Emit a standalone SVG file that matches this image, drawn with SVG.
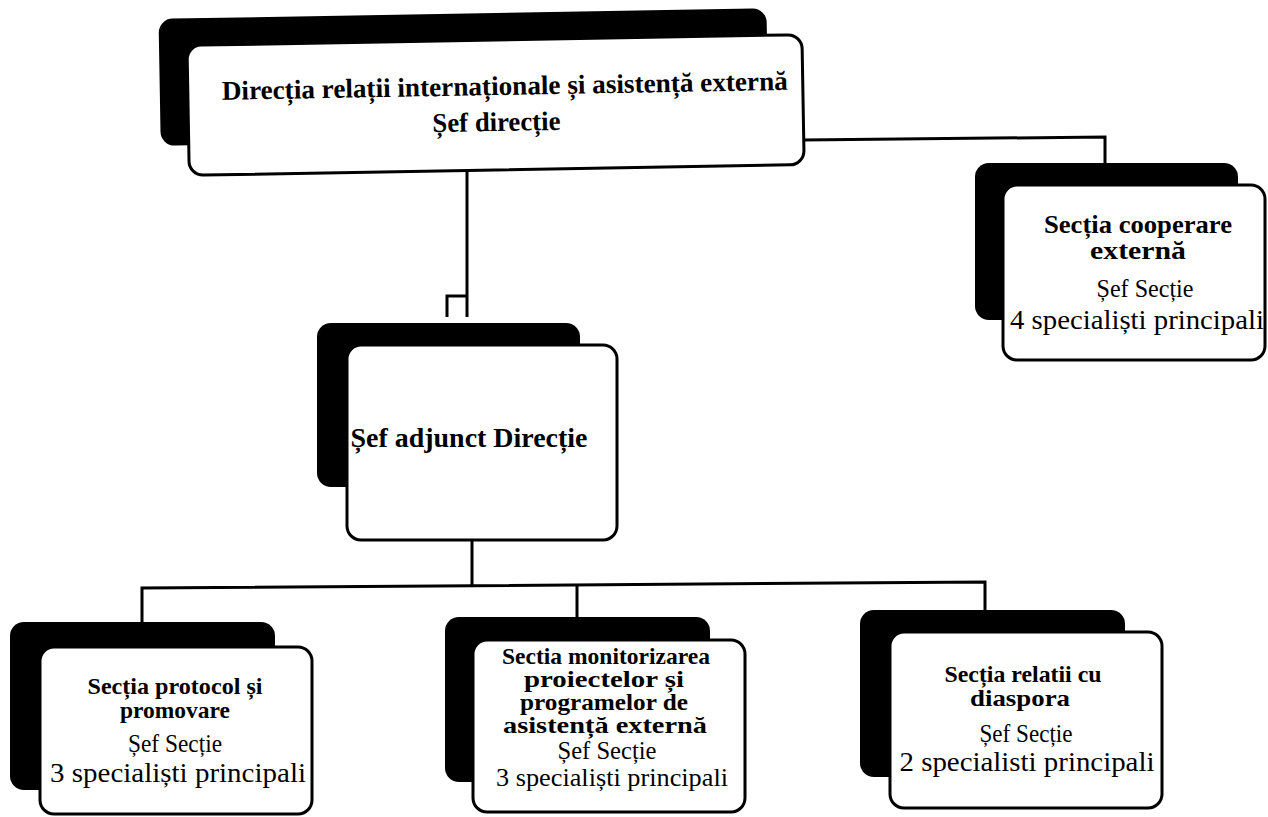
<svg xmlns="http://www.w3.org/2000/svg" width="1268" height="817" viewBox="0 0 1268 817">
<style>
.sh{fill:#000;}
.bx{fill:#fff;stroke:#000;stroke-width:3;}
.t{font-family:"Liberation Serif","Times New Roman",serif;fill:#000;text-anchor:middle;}
.b{font-weight:bold;font-size:23px;}
.bc{font-weight:bold;font-size:25px;}
.r{font-size:26px;}
.rm{font-size:25px;}
.rl{font-size:27px;}
.big{font-weight:bold;font-size:27px;}
.ln{fill:none;stroke:#000;stroke-width:3;}
</style>
<rect width="1268" height="817" fill="#fff"/>
<g id="connectors">
<path class="ln" d="M467 172 V317 M467 296 H447 V317"/>
<path class="ln" d="M803 140 L1105 137 V163"/>
<path class="ln" d="M472 540 V586"/>
<path class="ln" d="M142 622 V588 L985 582 V610"/>
<path class="ln" d="M577 585 V617"/>
</g>
<g id="node-directie" transform="rotate(-1 495 100)">
<rect class="sh" x="160" y="13" width="608" height="127" rx="14"/>
<rect class="bx" x="188" y="40" width="615" height="130" rx="14"/>
<text class="t big" x="505" y="95" textLength="566" lengthAdjust="spacingAndGlyphs">Direcția relații internaționale și asistență externă</text>
<text class="t big" x="496" y="131" textLength="128" lengthAdjust="spacingAndGlyphs">Șef direcție</text>
</g>
<g id="node-cooperare">
<rect class="sh" x="975" y="163" width="263" height="157" rx="14"/>
<rect class="bx" x="1003" y="185" width="262" height="175" rx="14"/>
<text class="t bc" x="1138" y="233" textLength="188" lengthAdjust="spacingAndGlyphs">Secția cooperare</text>
<text class="t bc" x="1138" y="259" textLength="96" lengthAdjust="spacingAndGlyphs">externă</text>
<text class="t r" x="1145" y="297" textLength="97" lengthAdjust="spacingAndGlyphs">Șef Secție</text>
<text class="t rl" x="1137" y="329" textLength="254" lengthAdjust="spacingAndGlyphs">4 specialiști principali</text>
</g>
<g id="node-adjunct">
<rect class="sh" x="317" y="323" width="263" height="164" rx="14"/>
<rect class="bx" x="347" y="345" width="270" height="195" rx="14"/>
<text class="t big" x="469" y="447" textLength="237" lengthAdjust="spacingAndGlyphs">Șef adjunct Direcție</text>
</g>
<g id="node-protocol">
<rect class="sh" x="10" y="622" width="265" height="168" rx="14"/>
<rect class="bx" x="40" y="647" width="272" height="167" rx="14"/>
<text class="t b" x="175" y="694" textLength="175" lengthAdjust="spacingAndGlyphs">Secția protocol și</text>
<text class="t b" x="175" y="718" textLength="110" lengthAdjust="spacingAndGlyphs">promovare</text>
<text class="t r" x="175" y="752" textLength="94" lengthAdjust="spacingAndGlyphs">Șef Secție</text>
<text class="t rl" x="178" y="782" textLength="256" lengthAdjust="spacingAndGlyphs">3 specialiști principali</text>
</g>
<g id="node-monitorizare">
<rect class="sh" x="445" y="617" width="265" height="165" rx="14"/>
<rect class="bx" x="473" y="640" width="272" height="172" rx="14"/>
<text class="t b" x="606" y="664" textLength="208" lengthAdjust="spacingAndGlyphs">Sectia monitorizarea</text>
<text class="t b" x="604" y="687" textLength="160" lengthAdjust="spacingAndGlyphs">proiectelor și</text>
<text class="t b" x="604" y="710" textLength="168" lengthAdjust="spacingAndGlyphs">programelor de</text>
<text class="t b" x="605" y="733" textLength="204" lengthAdjust="spacingAndGlyphs">asistență externă</text>
<text class="t rm" x="607" y="759" textLength="99" lengthAdjust="spacingAndGlyphs">Șef Secție</text>
<text class="t rm" x="612" y="786" textLength="232" lengthAdjust="spacingAndGlyphs">3 specialiști principali</text>
</g>
<g id="node-diaspora">
<rect class="sh" x="860" y="610" width="265" height="167" rx="14"/>
<rect class="bx" x="890" y="632" width="272" height="176" rx="14"/>
<text class="t b" x="1023" y="682" textLength="157" lengthAdjust="spacingAndGlyphs">Secția relatii cu</text>
<text class="t b" x="1020" y="706" textLength="100" lengthAdjust="spacingAndGlyphs">diaspora</text>
<text class="t r" x="1026" y="742" textLength="93" lengthAdjust="spacingAndGlyphs">Șef Secție</text>
<text class="t rl" x="1027" y="771" textLength="255" lengthAdjust="spacingAndGlyphs">2 specialisti principali</text>
</g>
</svg>
